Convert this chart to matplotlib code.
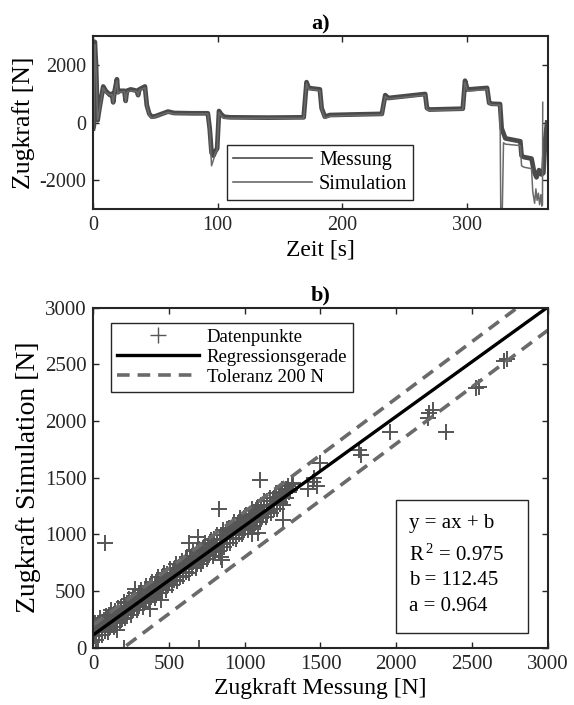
import matplotlib
matplotlib.use('Agg')
import matplotlib.pyplot as plt
from matplotlib.patches import Rectangle

plt.rcParams['font.family'] = ['Liberation Serif', 'DejaVu Serif']
plt.rcParams['mathtext.default'] = 'regular'
plt.rcParams['axes.unicode_minus'] = False

# a) Zeitverlauf (Stuetzstellen aus dem Bild abgelesen)
t_mess = [0, 0.5, 1.2, 2.2, 3.5, 5, 8, 10, 13.5, 15, 16, 17, 19, 19.8, 21, 25, 26, 27, 30,
          35, 36, 37, 41.5, 43, 45, 47, 50, 55, 60, 65, 80, 92, 93.5, 95, 96.5, 98, 99.5,
          101, 102.5, 105, 110, 140, 169, 171.3, 173, 176, 182, 183.4, 186, 190, 210,
          231.8, 234.5, 237, 266.6, 268, 270, 296.8, 298.6, 300.5, 302, 316.3, 318, 320,
          326.7, 328, 331, 343, 344, 346, 352, 354, 356, 358, 360, 361.5, 363, 364.5]
f_mess = [-200, -100, 2800, 2000, 80, 500, 1250, 1100, 950, 1000, 700, 1050, 1500, 1050,
          1100, 1100, 750, 1100, 1150, 1100, 950, 1150, 1250, 600, 300, 200, 220, 300,
          380, 330, 320, 320, -200, -1050, -1150, -1000, -900, 400, 300, 200, 180, 170,
          180, 1400, 1200, 1180, 1150, 500, 200, 260, 280, 300, 950, 850, 990, 500, 450,
          480, 1450, 1150, 1150, 1200, 680, 650, 640, -200, -550, -650, -1150, -1200,
          -1250, -1700, -1900, -1650, -1800, -1750, -600, 0]

t_sim = [0, 0.5, 1.2, 2.2, 3.5, 5, 8, 10, 13.5, 15, 16, 17, 19, 19.8, 21, 25, 26, 27, 30,
         35, 36, 37, 41.5, 43, 45, 47, 50, 55, 60, 65, 80, 92, 93.5, 95, 96.5, 98, 99.5,
         101, 102.5, 105, 110, 140, 169, 171.3, 173, 176, 182, 183.4, 186, 190, 210,
         231.8, 234.5, 237, 266.6, 268, 270, 296.8, 298.6, 300.5, 302, 316.3, 318, 320,
         326.7, 327.3, 328.5, 329.5, 331, 343, 344, 346, 352, 353, 354.5, 355.5, 356.5,
         357.5, 358.5, 359.5, 360.3, 360.8, 361.0]
f_sim = [-200, -100, 2700, 1900, 100, 450, 1200, 1050, 950, 980, 680, 1000, 1450, 1000,
         1050, 1080, 720, 1050, 1100, 1080, 930, 1120, 1200, 580, 250, 150, 200, 280,
         350, 300, 300, 300, -300, -1500, -1300, -1050, -950, 350, 250, 150, 150, 150,
         150, 1350, 1150, 1150, 1100, 450, 150, 220, 250, 270, 900, 820, 950, 450, 420,
         450, 1400, 1100, 1100, 1150, 650, 620, 600, -3100, -3100, -700, -750, -800,
         -1500, -1550, -1600, -2400, -2800, -2300, -2700, -2450, -2850, -2500, -2900,
         -2850, 700]

# b) Messung vs. Simulation (dichtes Band + Einzelpunkte)
band_x = [10, 45, 85, 120, 160, 200, 235, 275, 315, 350, 390, 430, 470, 505, 545, 585,
          620, 660, 700, 740, 775, 815, 855, 895, 930, 970, 1010, 1050, 1085, 1125, 1165,
          1205, 1245, 1285, 1320,
          25, 65, 100, 140, 180, 215, 255, 295, 330, 370, 410, 450, 485, 525, 565, 600,
          640, 680, 720, 760, 795, 835, 875, 910, 950, 990, 1030, 1065, 1105, 1145, 1185,
          1225, 1265, 1300,
          5, 40, 80, 115, 155, 195, 230, 270, 310, 345, 385, 425, 460, 500, 540, 575, 615,
          655, 695, 730, 770, 810, 850, 885, 925, 965, 1000, 1040, 1080, 1120, 1155, 1195,
          1235, 1270,
          20, 60, 95, 135, 175, 210, 250, 290, 325, 365, 405, 440, 480, 520, 555, 595, 635,
          675, 710, 750, 790, 830, 865, 905, 945, 985, 1020, 1060, 1100, 1140, 1175, 1215,
          1250,
          30, 70, 105, 145, 185, 220, 260, 300, 340, 375, 415, 455, 490, 530, 570, 610,
          645, 685, 725, 765, 800, 840, 880, 920, 955, 995, 1035, 1075, 1110, 1150, 1190,
          1230, 1270, 1310,
          15, 55, 90, 130, 170, 205, 245, 285, 320, 360, 400, 435, 475, 515, 550, 590, 630,
          665, 705, 745, 785, 820, 860, 900, 940, 975, 1015, 1055, 1095, 1130, 1170, 1210,
          1250, 1290,
          35, 75, 110, 150, 190, 225, 265, 305, 340, 380, 420, 455, 495, 535, 570, 610, 650,
          685, 725, 765, 805, 840, 880, 920, 960, 995, 1035, 1075, 1115, 1150, 1190, 1230]
band_y = [215, 262, 283, 330, 352, 405, 428, 480, 505, 548, 580, 628, 655, 690, 740, 765,
          800, 850, 875, 925, 950, 990, 1035, 1060, 1105, 1140, 1175, 1225, 1245, 1290,
          1325, 1365, 1400, 1430, 1450,
          180, 210, 255, 280, 330, 355, 400, 430, 475, 505, 550, 580, 625, 655, 700, 725,
          770, 805, 850, 880, 920, 955, 995, 1025, 1070, 1100, 1150, 1175, 1215, 1255,
          1290, 1330, 1365, 1395,
          100, 145, 175, 215, 245, 290, 320, 365, 395, 440, 470, 515, 540, 585, 620, 660,
          690, 735, 765, 810, 840, 885, 915, 955, 990, 1035, 1060, 1105, 1140, 1180, 1210,
          1255, 1285, 1320,
          70, 115, 140, 185, 215, 260, 290, 335, 360, 405, 440, 480, 510, 555, 585, 630,
          660, 705, 735, 780, 810, 855, 885, 925, 960, 1005, 1035, 1075, 1110, 1155, 1185,
          1225, 1255,
          215, 245, 290, 320, 360, 390, 435, 470, 505, 545, 580, 625, 650, 695, 730, 770,
          800, 845, 880, 915, 955, 990, 1030, 1070, 1100, 1140, 1180, 1215, 1255, 1290,
          1325, 1370, 1400, 1440,
          140, 175, 220, 250, 295, 320, 365, 400, 440, 470, 515, 545, 585, 620, 660, 695,
          735, 765, 805, 850, 880, 920, 955, 995, 1030, 1070, 1105, 1140, 1185, 1215, 1255,
          1290, 1330, 1370,
          115, 145, 185, 220, 255, 300, 330, 370, 400, 445, 480, 515, 550, 595, 625, 665,
          700, 740, 775, 815, 850, 890, 920, 965, 1000, 1040, 1070, 1110, 1150, 1190, 1220,
          1265]
out_x = [77, 30, 200, 700, 275, 375, 450, 155, 630, 690, 845, 850, 832, 1050, 1090, 1100,
         1250, 1420, 1450, 1460, 1494, 1480, 1755, 1765, 1959, 2210, 2218, 2240, 2329,
         2525, 2545, 2712, 2728]
out_y = [926, 0, 0, 0, 520, 340, 425, 160, 920, 980, 800, 770, 1221, 1000, 1010, 1480,
         1130, 1400, 1460, 1500, 1627, 1430, 1744, 1700, 1900, 2030, 2068, 2100, 1900,
         2295, 2303, 2530, 2545]

a_fit = 0.964
b_fit = 112.45
r2 = 0.975
tol = 200
line_x = [0, 3000]

fig = plt.figure(figsize=(5.74, 7.05), dpi=100)

# --- a) ---
ax1 = fig.add_axes([0.1625, 0.7035, 0.7917, 0.2454])
ax1.plot(t_mess, f_mess, color='#4a4a4a', lw=3.4, label='Messung')
ax1.plot(t_sim, f_sim, color='#6a6a6a', lw=1.1, label='Simulation')
ax1.set_xlim(0, 365)
ax1.set_ylim(-3000, 3000)
ax1.set_xticks([0, 100, 200, 300])
ax1.set_yticks([-2000, 0, 2000])
ax1.set_xlabel('Zeit [s]', fontsize=17, labelpad=3)
ax1.set_ylabel('Zugkraft [N]', fontsize=18.5, labelpad=3)
ax1.set_title('a)', fontsize=16, fontweight='bold', pad=5)
leg1 = ax1.legend(loc='lower left', bbox_to_anchor=(0.295, 0.052), fontsize=14.5,
                  handlelength=3.9, handletextpad=0.35, borderpad=0.3, labelspacing=0.25,
                  fancybox=False, edgecolor='#262626', framealpha=1, borderaxespad=0)
leg1.get_frame().set_linewidth(1.0)
for h in leg1.get_lines():
    h.set_linewidth(1.2)

# --- b) ---
ax2 = fig.add_axes([0.1625, 0.0813, 0.7917, 0.4823])
ax2.plot(band_x + out_x, band_y + out_y, linestyle='none', marker='+', ms=11.5, mew=1.4,
         color='#555555', label='Datenpunkte')
fit_y = [a_fit * x + b_fit for x in line_x]
ax2.plot(line_x, fit_y, color='black', lw=2.4, label='Regressionsgerade')
ax2.plot(line_x, [x + tol for x in line_x], color='#6a6a6a', lw=2.6, dashes=(3.5, 2.2),
         label='Toleranz 200 N')
ax2.plot(line_x, [x - tol for x in line_x], color='#6a6a6a', lw=2.6, dashes=(3.5, 2.2))
ax2.set_xlim(0, 3000)
ax2.set_ylim(0, 3000)
ax2.set_xticks(range(0, 3001, 500))
ax2.set_yticks(range(0, 3001, 500))
ax2.set_xlabel('Zugkraft Messung [N]', fontsize=17, labelpad=3)
ax2.set_ylabel('Zugkraft Simulation [N]', fontsize=20, labelpad=3)
ax2.set_title('b)', fontsize=16, fontweight='bold', pad=5)
leg2 = ax2.legend(loc='upper left', bbox_to_anchor=(0.039, 0.954), fontsize=13.5,
                  handlelength=4.4, handletextpad=0.4, borderpad=0.3, labelspacing=0.15,
                  fancybox=False, edgecolor='#262626', framealpha=1, borderaxespad=0)
leg2.get_frame().set_linewidth(1.0)
for h in leg2.legend_handles[:1]:
    h.set_markeredgewidth(1.0)

ax2.add_patch(Rectangle((0.666, 0.044), 0.291, 0.39, transform=ax2.transAxes,
                        facecolor='white', edgecolor='#262626', lw=1.0, zorder=5))
box_lines = ['y = ax + b', 'R$^{\\,2}$ = %.3f' % r2, 'b = %.2f' % b_fit, 'a = %.3f' % a_fit]
box_pos = [0.366, 0.273, 0.199, 0.121]
for s, yp in zip(box_lines, box_pos):
    ax2.text(0.695, yp, s, transform=ax2.transAxes, fontsize=15, va='center', ha='left',
             zorder=6)

for ax, lsize in ((ax1, 14.5), (ax2, 15)):
    ax.tick_params(direction='in', length=4, width=1.0, top=True, right=True,
                   labelsize=lsize, colors='#262626', pad=5)
    for sp in ax.spines.values():
        sp.set_linewidth(1.5)
        sp.set_color('#262626')

fig.savefig('out.png', dpi=100)
